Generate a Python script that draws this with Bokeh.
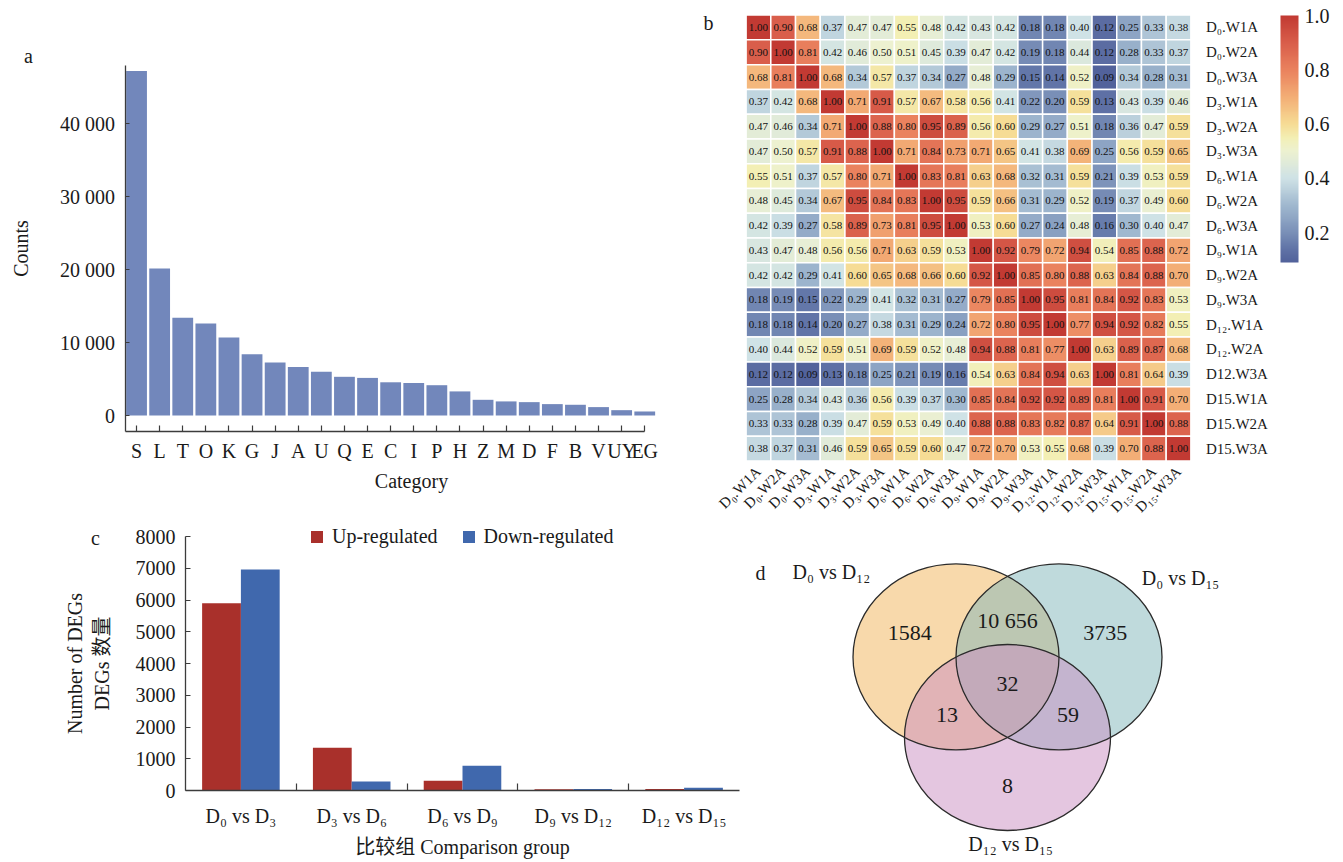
import math
import numpy as np
from bokeh.plotting import figure
from bokeh.models import (ColumnDataSource, Range1d, FixedTicker, LinearColorMapper,
                          ColorBar, Legend, LegendItem, PrintfTickFormatter)
from bokeh.layouts import row, column
from bokeh.transform import transform
from bokeh.core.properties import value
from bokeh.embed import file_html
from bokeh.resources import INLINE

FONT = "Liberation Serif"
FONT_CJK = "'Liberation Serif', 'Noto Sans CJK SC'"
INK = "#1a1a1a"
AXIS = "#3c3c3c"

# ---------------- panel a data ----------------
cog_categories = ["S", "L", "T", "O", "K", "G", "J", "A", "U", "Q", "E", "C", "I", "P", "H",
                  "Z", "M", "D", "F", "B", "V", "UY", "EG"]
cog_counts = [47200, 20150, 13400, 12600, 10700, 8400, 7250, 6650, 6000, 5300, 5150, 4550,
              4450, 4150, 3300, 2150, 1930, 1830, 1560, 1470, 1150, 730, 550]
count_ticks = [0, 10000, 20000, 30000, 40000]
count_tick_labels = ["0", "10 000", "20 000", "30 000", "40 000"]

# ---------------- panel b data ----------------
sample_cols = ["D₀.W1A", "D₀.W2A", "D₀.W3A", "D₃.W1A", "D₃.W2A", "D₃.W3A",
               "D₆.W1A", "D₆.W2A", "D₆.W3A", "D₉.W1A", "D₉.W2A", "D₉.W3A",
               "D₁₂.W1A", "D₁₂.W2A", "D₁₂.W3A", "D₁₅.W1A", "D₁₅.W2A", "D₁₅.W3A"]
sample_rows = ["D₀.W1A", "D₀.W2A", "D₀.W3A", "D₃.W1A", "D₃.W2A", "D₃.W3A",
               "D₆.W1A", "D₆.W2A", "D₆.W3A", "D₉.W1A", "D₉.W2A", "D₉.W3A",
               "D₁₂.W1A", "D₁₂.W2A", "D12.W3A", "D15.W1A", "D15.W2A", "D15.W3A"]
corr = [
    [1.00, 0.90, 0.68, 0.37, 0.47, 0.47, 0.55, 0.48, 0.42, 0.43, 0.42, 0.18, 0.18, 0.40, 0.12, 0.25, 0.33, 0.38],
    [0.90, 1.00, 0.81, 0.42, 0.46, 0.50, 0.51, 0.45, 0.39, 0.47, 0.42, 0.19, 0.18, 0.44, 0.12, 0.28, 0.33, 0.37],
    [0.68, 0.81, 1.00, 0.68, 0.34, 0.57, 0.37, 0.34, 0.27, 0.48, 0.29, 0.15, 0.14, 0.52, 0.09, 0.34, 0.28, 0.31],
    [0.37, 0.42, 0.68, 1.00, 0.71, 0.91, 0.57, 0.67, 0.58, 0.56, 0.41, 0.22, 0.20, 0.59, 0.13, 0.43, 0.39, 0.46],
    [0.47, 0.46, 0.34, 0.71, 1.00, 0.88, 0.80, 0.95, 0.89, 0.56, 0.60, 0.29, 0.27, 0.51, 0.18, 0.36, 0.47, 0.59],
    [0.47, 0.50, 0.57, 0.91, 0.88, 1.00, 0.71, 0.84, 0.73, 0.71, 0.65, 0.41, 0.38, 0.69, 0.25, 0.56, 0.59, 0.65],
    [0.55, 0.51, 0.37, 0.57, 0.80, 0.71, 1.00, 0.83, 0.81, 0.63, 0.68, 0.32, 0.31, 0.59, 0.21, 0.39, 0.53, 0.59],
    [0.48, 0.45, 0.34, 0.67, 0.95, 0.84, 0.83, 1.00, 0.95, 0.59, 0.66, 0.31, 0.29, 0.52, 0.19, 0.37, 0.49, 0.60],
    [0.42, 0.39, 0.27, 0.58, 0.89, 0.73, 0.81, 0.95, 1.00, 0.53, 0.60, 0.27, 0.24, 0.48, 0.16, 0.30, 0.40, 0.47],
    [0.43, 0.47, 0.48, 0.56, 0.56, 0.71, 0.63, 0.59, 0.53, 1.00, 0.92, 0.79, 0.72, 0.94, 0.54, 0.85, 0.88, 0.72],
    [0.42, 0.42, 0.29, 0.41, 0.60, 0.65, 0.68, 0.66, 0.60, 0.92, 1.00, 0.85, 0.80, 0.88, 0.63, 0.84, 0.88, 0.70],
    [0.18, 0.19, 0.15, 0.22, 0.29, 0.41, 0.32, 0.31, 0.27, 0.79, 0.85, 1.00, 0.95, 0.81, 0.84, 0.92, 0.83, 0.53],
    [0.18, 0.18, 0.14, 0.20, 0.27, 0.38, 0.31, 0.29, 0.24, 0.72, 0.80, 0.95, 1.00, 0.77, 0.94, 0.92, 0.82, 0.55],
    [0.40, 0.44, 0.52, 0.59, 0.51, 0.69, 0.59, 0.52, 0.48, 0.94, 0.88, 0.81, 0.77, 1.00, 0.63, 0.89, 0.87, 0.68],
    [0.12, 0.12, 0.09, 0.13, 0.18, 0.25, 0.21, 0.19, 0.16, 0.54, 0.63, 0.84, 0.94, 0.63, 1.00, 0.81, 0.64, 0.39],
    [0.25, 0.28, 0.34, 0.43, 0.36, 0.56, 0.39, 0.37, 0.30, 0.85, 0.84, 0.92, 0.92, 0.89, 0.81, 1.00, 0.91, 0.70],
    [0.33, 0.33, 0.28, 0.39, 0.47, 0.59, 0.53, 0.49, 0.40, 0.88, 0.88, 0.83, 0.82, 0.87, 0.64, 0.91, 1.00, 0.88],
    [0.38, 0.37, 0.31, 0.46, 0.59, 0.65, 0.59, 0.60, 0.47, 0.72, 0.70, 0.53, 0.55, 0.68, 0.39, 0.70, 0.88, 1.00],
]
colorbar_ticks = [0.2, 0.4, 0.6, 0.8, 1.0]

# ---------------- panel c data ----------------
comparisons = ["D₀ vs D₃", "D₃ vs D₆", "D₆ vs D₉", "D₉ vs D₁₂", "D₁₂ vs D₁₅"]
up_regulated = [5900, 1350, 310, 40, 50]
down_regulated = [6960, 280, 780, 45, 90]
deg_ticks = [0, 1000, 2000, 3000, 4000, 5000, 6000, 7000, 8000]

# ---------------- panel d data ----------------
venn_sets = ["D₀ vs D₁₂", "D₀ vs D₁₅", "D₁₂ vs D₁₅"]
venn_regions = ["100", "010", "001", "110", "101", "011", "111"]
venn_counts = [1584, 3735, 8, 10656, 13, 59, 32]

# ---------------- styles ----------------
heat_anchor_v = [0.09, 0.15, 0.2, 0.3, 0.4, 0.5, 0.55, 0.6, 0.7, 0.8, 0.9, 1.0]
heat_anchor_c = ["#52629B", "#6478AA", "#7A90B8", "#A0B8CF", "#CFE2E6", "#EDF1D0",
                 "#F3EFB4", "#F6DC95", "#F3AE76", "#EA825E", "#D95E4B", "#C23A33"]


def hex2rgb(h):
    h = h.lstrip("#")
    return [int(h[i:i + 2], 16) for i in (0, 2, 4)]


def build_palette(vals, cols, n=256):
    rgb = np.array([hex2rgb(c) for c in cols], dtype=float)
    grid = np.linspace(vals[0], vals[-1], n)
    out = []
    for g in grid:
        r = np.interp(g, vals, rgb[:, 0])
        gg = np.interp(g, vals, rgb[:, 1])
        b = np.interp(g, vals, rgb[:, 2])
        out.append("#%02x%02x%02x" % (int(round(r)), int(round(gg)), int(round(b))))
    return out


heat_palette = build_palette(heat_anchor_v, heat_anchor_c)


def base_fig(xr, yr, w, h, **kw):
    p = figure(x_range=xr, y_range=yr, width=w, height=h, output_backend="svg",
               toolbar_location=None, min_border_left=0, min_border_right=0,
               min_border_top=0, min_border_bottom=0, **kw)
    p.xgrid.visible = False
    p.ygrid.visible = False
    p.outline_line_color = None
    return p


def style_axis(ax, size="20px"):
    ax.major_label_text_font = FONT
    ax.major_label_text_font_size = size
    ax.major_label_text_color = INK
    ax.axis_label_text_font = FONT
    ax.axis_label_text_font_size = "20px"
    ax.axis_label_text_font_style = "normal"
    ax.axis_label_text_color = INK
    ax.axis_line_color = AXIS
    ax.axis_line_width = 1.3
    ax.major_tick_line_color = AXIS
    ax.major_tick_line_width = 1.2
    ax.minor_tick_line_color = None


def put_text(p, x, y, text, size="20px", font=FONT, align="center"):
    p.text(x=[x], y=[y], text=[text], text_align=align, text_baseline="middle",
           text_font=value(font), text_font_size=size, text_color=INK)


# ================= panel a (layout in page pixels) =================
W_A, H_A = 698, 513
A_X0, A_PITCH = 124.5, 23.1          # px of first category boundary, px per category
A_Y0, A_PPU = 415.0, 73.0 / 10000    # px of count 0, px per count
A_FLOOR, A_CEIL = -2200, 48000       # axis line extent (counts)
pa = base_fig(Range1d(-A_X0 / A_PITCH, (W_A - A_X0) / A_PITCH),
              Range1d(-(H_A - A_Y0) / A_PPU, A_Y0 / A_PPU), W_A, H_A)
xa = np.arange(len(cog_categories)) + 0.5
src_a = ColumnDataSource(dict(x=xa, count=cog_counts))
pa.vbar(x="x", top="count", width=0.9, source=src_a, fill_color="#7287BB", line_color=None)
style_axis(pa.xaxis[0], "20px")
style_axis(pa.yaxis[0], "20px")
pa.xaxis.fixed_location = A_FLOOR
pa.xaxis.bounds = (0, len(cog_categories) - 0.5)
pa.xaxis.ticker = FixedTicker(ticks=list(xa))
pa.xaxis.major_label_overrides = {float(x): c for x, c in zip(xa, cog_categories)}
pa.xaxis.major_tick_in = 6
pa.xaxis.major_tick_out = 0
pa.xaxis.major_label_standoff = 8
pa.yaxis.fixed_location = 0
pa.yaxis.bounds = (A_FLOOR, A_CEIL)
pa.yaxis.axis_label = "Counts"
pa.yaxis.ticker = FixedTicker(ticks=count_ticks)
pa.yaxis.major_label_overrides = dict(zip(count_ticks, count_tick_labels))
pa.yaxis.major_tick_in = 4
pa.yaxis.major_tick_out = 0
pa.yaxis.major_label_standoff = 10
pa.yaxis.axis_label_standoff = 26
put_text(pa, (411 - A_X0) / A_PITCH, (A_Y0 - 480) / A_PPU, "Category")
put_text(pa, (28 - A_X0) / A_PITCH, (A_Y0 - 55) / A_PPU, "a")

# ================= panel b =================
B_LEFT = W_A
W_B, H_B = 1343 - B_LEFT, 513
GRID_L, GRID_T = 745.6 - B_LEFT, 14.6
CELL_W, CELL_H = 24.71, 24.77
n = len(sample_rows)
pb = base_fig(Range1d(-GRID_L / CELL_W, (W_B - GRID_L) / CELL_W),
              Range1d(n - (H_B - GRID_T) / CELL_H, n + GRID_T / CELL_H), W_B, H_B,
              y_axis_location="right")
col_pos = np.arange(n) + 0.5
row_pos = n - 0.5 - np.arange(n)
src_b = ColumnDataSource(dict(
    x=[col_pos[j] for i in range(n) for j in range(n)],
    y=[row_pos[i] for i in range(n) for j in range(n)],
    val=[corr[i][j] for i in range(n) for j in range(n)],
    label=["%.2f" % corr[i][j] for i in range(n) for j in range(n)],
))
mapper = LinearColorMapper(palette=heat_palette, low=min(min(r) for r in corr), high=1.0)
pb.rect(x="x", y="y", width=1, height=1, source=src_b,
        fill_color=transform("val", mapper), line_color="white", line_width=1.5)
pb.text(x="x", y="y", text="label", source=src_b, text_align="center",
        text_baseline="middle", text_font=value(FONT), text_font_size="11px", text_color="#111111")
for ax in (pb.xaxis[0], pb.yaxis[0]):
    style_axis(ax, "15px")
    ax.axis_line_color = None
    ax.major_tick_line_color = None
pb.xaxis.fixed_location = 0
pb.xaxis.ticker = FixedTicker(ticks=list(col_pos))
pb.xaxis.major_label_overrides = {float(x): c for x, c in zip(col_pos, sample_cols)}
pb.xaxis.major_label_orientation = math.pi / 4
pb.xaxis.major_label_standoff = 2
pb.yaxis.fixed_location = n
pb.yaxis.ticker = FixedTicker(ticks=list(row_pos))
pb.yaxis.major_label_overrides = {float(y): r for y, r in zip(row_pos, sample_rows)}
pb.yaxis.major_label_standoff = 9
cb = ColorBar(color_mapper=mapper, location=(1280 - B_LEFT, H_B - 262), width=18, height=247,
              padding=0, ticker=FixedTicker(ticks=colorbar_ticks),
              formatter=PrintfTickFormatter(format="%.1f"),
              major_label_text_font=FONT, major_label_text_font_size="20px",
              major_label_text_color=INK, major_tick_line_color=None, bar_line_color=None,
              label_standoff=6, background_fill_color=None, border_line_color=None)
pb.add_layout(cb)
put_text(pb, (708 - 745.6) / CELL_W, n - (22 - GRID_T) / CELL_H, "b")

# ================= panel c =================
C_TOP = H_A
W_C, H_C = 753, 862 - C_TOP
C_X0, C_PITCH = 185.0, 110.8
C_Y0, C_PPU = 790.0 - C_TOP, 31.75 / 1000
pc = base_fig(Range1d(-C_X0 / C_PITCH, (W_C - C_X0) / C_PITCH),
              Range1d(-(H_C - C_Y0) / C_PPU, C_Y0 / C_PPU), W_C, H_C)
centers = np.arange(len(comparisons)) + 0.5
src_c = ColumnDataSource(dict(xu=centers - 0.175, xd=centers + 0.175,
                              up=up_regulated, down=down_regulated))
r_up = pc.vbar(x="xu", top="up", width=0.35, source=src_c, fill_color="#A9302B", line_color=None)
r_dn = pc.vbar(x="xd", top="down", width=0.35, source=src_c, fill_color="#4068AD", line_color=None)
style_axis(pc.xaxis[0], "20px")
style_axis(pc.yaxis[0], "20px")
pc.xaxis.fixed_location = 0
pc.xaxis.bounds = (0, len(comparisons))
pc.xaxis.ticker = FixedTicker(ticks=list(centers), minor_ticks=list(range(1, len(comparisons))))
pc.xaxis.major_label_overrides = {float(c): lab for c, lab in zip(centers, comparisons)}
pc.xaxis.major_tick_line_color = None
pc.xaxis.minor_tick_line_color = AXIS
pc.xaxis.minor_tick_line_width = 1.2
pc.xaxis.minor_tick_in = 7
pc.xaxis.minor_tick_out = 0
pc.xaxis.major_label_standoff = 8
pc.xaxis.axis_label = "比较组 Comparison group"
pc.xaxis.axis_label_text_font = FONT_CJK
pc.xaxis.axis_label_standoff = 6
pc.yaxis.fixed_location = 0
pc.yaxis.bounds = (deg_ticks[0], deg_ticks[-1])
pc.yaxis.ticker = FixedTicker(ticks=deg_ticks)
pc.yaxis.major_tick_in = 5
pc.yaxis.major_tick_out = 0
pc.yaxis.major_label_standoff = 10
pc.yaxis.axis_label = "Number of DEGs\nDEGs 数量"
pc.yaxis.axis_label_text_font = FONT_CJK
pc.yaxis.axis_label_standoff = 20
legend = Legend(items=[LegendItem(label="Up-regulated", renderers=[r_up]),
                       LegendItem(label="Down-regulated", renderers=[r_dn])],
                orientation="horizontal", location=(309, 862 - 548), padding=0, margin=0,
                spacing=23, label_standoff=8, glyph_width=15, glyph_height=15,
                label_text_font=FONT, label_text_font_size="20px", label_text_color=INK,
                border_line_color=None, background_fill_alpha=0)
pc.add_layout(legend)
put_text(pc, (95 - C_X0) / C_PITCH, (C_Y0 - (537 - C_TOP)) / C_PPU, "c")

# ================= panel d =================
D_LEFT = W_C
W_D, H_D = 1343 - D_LEFT, 862 - C_TOP
XS, YS = 103.0, 93.0                      # px per unit radius, horizontally / vertically
cx0, cy0 = 1007.0 - D_LEFT, 683.3 - C_TOP  # centroid of the three sets inside the panel
pd_ = base_fig(Range1d(-cx0 / XS, (W_D - cx0) / XS),
               Range1d(-(H_D - cy0) / YS, cy0 / YS), W_D, H_D,
               x_axis_location=None, y_axis_location=None)
venn_cx = [-0.5, 0.5, 0.0]
venn_cy = [math.sqrt(3) / 6, math.sqrt(3) / 6, -math.sqrt(3) / 3]
venn_fill = ["#F1B357", "#7FB5B9", "#C98DC1"]
src_v = ColumnDataSource(dict(x=venn_cx, y=venn_cy, color=venn_fill))
pd_.ellipse(x="x", y="y", width=2, height=2, source=src_v, fill_color="color",
            fill_alpha=0.5, line_color=None)
pd_.ellipse(x="x", y="y", width=2, height=2, source=src_v, fill_color=None,
            line_color="#2b2b2b", line_width=1.3)

spread = {1: 1.9, 2: 2.35, 3: 0.0}
rx, ry, rt = [], [], []
for code, cnt in zip(venn_regions, venn_counts):
    inc = [i for i, ch in enumerate(code) if ch == "1"]
    mx = float(np.mean([venn_cx[i] for i in inc]))
    my = float(np.mean([venn_cy[i] for i in inc]))
    k = spread[len(inc)]
    rx.append(mx * k)
    ry.append(my * k)
    rt.append(("{:,}".format(cnt)).replace(",", " ") if cnt >= 10000 else str(cnt))
pd_.text(x=rx, y=ry, text=rt, text_align="center", text_baseline="middle",
         text_font=value(FONT), text_font_size="22px", text_color=INK)

name_dx = [-1.21, 1.18, 0.03]
name_dy = [0.91, 0.85, -1.15]
pd_.text(x=[c + d for c, d in zip(venn_cx, name_dx)], y=[c + d for c, d in zip(venn_cy, name_dy)],
         text=venn_sets, text_align="center", text_baseline="middle",
         text_font=value(FONT), text_font_size="20px", text_color=INK)
put_text(pd_, (760 - 1007.0) / XS, (683.3 - 572) / YS, "d")

layout = column(row(pa, pb), row(pc, pd_))
open("out.html", "w").write(file_html(layout, INLINE, title="figure"))
